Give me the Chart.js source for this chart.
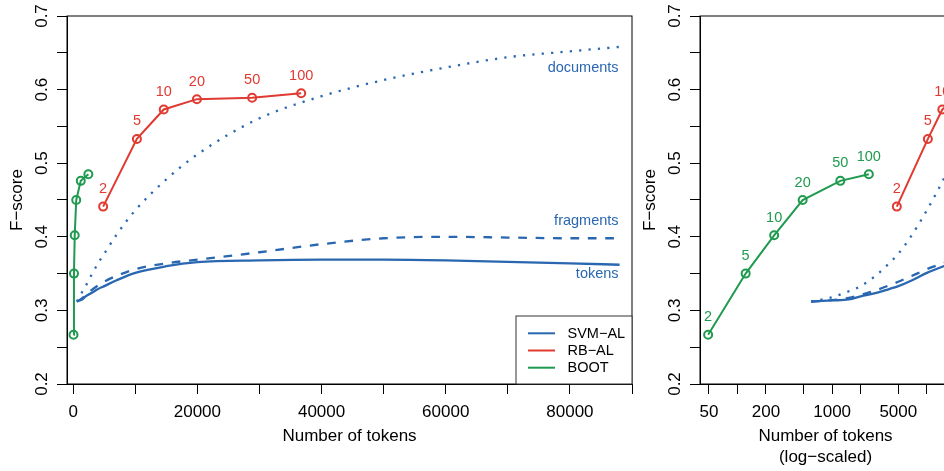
<!DOCTYPE html>
<html>
<head>
<meta charset="utf-8">
<script src="https://cdn.jsdelivr.net/npm/chart.js@4.4.0/dist/chart.umd.min.js"></script>
<style>
  html, body { margin: 0; padding: 0; background: #fff; overflow: hidden; }
  #wrap { position: relative; width: 944px; height: 471px; overflow: hidden; }
  canvas { position: absolute; top: 0; }
  #linChart { left: 0; }
  #logChart { left: 633px; }
</style>
</head>
<body>
<div id="wrap">
  <canvas id="linChart" width="640" height="471"></canvas>
  <canvas id="logChart" width="324" height="471"></canvas>
</div>
<script>
// seeds used for RB-AL and BOOT runs
const seeds = [2, 5, 10, 20, 50, 100];
const rbTokens = [4820, 10260, 14580, 19920, 28820, 36720];
const rbScore = [0.441, 0.533, 0.573, 0.587, 0.589, 0.595];
const bootTokens = [49, 122, 244, 488, 1220, 2440];
const bootScore = [0.267, 0.350, 0.402, 0.450, 0.476, 0.485];

// SVM-AL learning curves (tokens / fragments / documents)
const svmTokens = [600, 1000, 1500, 2000, 3000, 4000, 5000, 7000, 10000, 15000,
  20000, 30000, 40000, 50000, 60000, 70000, 80000, 88000];
const svmTok = [0.312, 0.3135, 0.315, 0.319, 0.324, 0.329, 0.333, 0.341, 0.351, 0.360,
  0.3655, 0.368, 0.369, 0.369, 0.368, 0.366, 0.364, 0.362];
const svmFrag = [0.312, 0.314, 0.317, 0.321, 0.328, 0.334, 0.339, 0.347, 0.356, 0.364,
  0.369, 0.379, 0.390, 0.398, 0.400, 0.399, 0.398, 0.398];
const svmDoc = [0.312, 0.318, 0.326, 0.333, 0.349, 0.364, 0.377, 0.403, 0.436, 0.478,
  0.512, 0.561, 0.591, 0.613, 0.630, 0.644, 0.652, 0.658];

const seriesNames = ["SVM\u2212AL", "RB\u2212AL", "BOOT"];
const curveNames = ["tokens", "fragments", "documents"];

const yTicks = [0.2, 0.25, 0.3, 0.35, 0.4, 0.45, 0.5, 0.55, 0.6, 0.65, 0.7];
const yLabels = [0.2, 0.3, 0.4, 0.5, 0.6, 0.7];
const linTicks = [0, 10000, 20000, 30000, 40000, 50000, 60000, 70000, 80000, 90000];
const linLabels = [0, 20000, 40000, 60000, 80000];
const logTicks = [50, 100, 200, 500, 1000, 2000, 5000, 10000];
const logLabels = [50, 200, 1000, 5000];

const BLUE = "#2a67b1";
const RED = "#e03a31";
const GREEN = "#1f9a4f";
const FONT = "'Liberation Sans', Arial, Helvetica, sans-serif";

function pts(xs, ys) {
  return xs.map((x, i) => ({ x: x, y: ys[i] }));
}

function buildDatasets() {
  const curve = {
    borderColor: BLUE, borderWidth: 2.3, pointRadius: 0,
    cubicInterpolationMode: "monotone", fill: false
  };
  const marks = {
    borderWidth: 2, pointRadius: 4, pointBorderWidth: 2,
    pointBackgroundColor: "rgba(0,0,0,0)", fill: false, tension: 0
  };
  return [
    Object.assign({ label: curveNames[0], data: pts(svmTokens, svmTok) }, curve),
    Object.assign({ label: curveNames[1], data: pts(svmTokens, svmFrag), borderDash: [8.7, 8.7] }, curve),
    Object.assign({ label: curveNames[2], data: pts(svmTokens, svmDoc), borderDash: [2.2, 7.2] }, curve),
    Object.assign({ label: seriesNames[1], data: pts(rbTokens, rbScore),
      borderColor: RED, pointBorderColor: RED }, marks),
    Object.assign({ label: seriesNames[2], data: pts(bootTokens, bootScore),
      borderColor: GREEN, pointBorderColor: GREEN }, marks)
  ];
}

// frame around the plot region + rotated y tick labels (R style)
const rFrame = {
  id: "rFrame",
  afterDraw(chart) {
    const ctx = chart.ctx, a = chart.chartArea, ys = chart.scales.y;
    ctx.save();
    ctx.strokeStyle = "#000";
    ctx.lineWidth = 1;
    ctx.strokeRect(a.left, a.top, a.right - a.left, a.bottom - a.top);
    ctx.fillStyle = "#000";
    ctx.font = "17px " + FONT;
    ctx.textAlign = "center";
    ctx.textBaseline = "middle";
    yLabels.forEach(v => {
      const y = ys.getPixelForValue(v);
      ctx.save();
      ctx.translate(a.left - 24.5, y);
      ctx.rotate(-Math.PI / 2);
      ctx.fillText(v.toFixed(1), 0, 0);
      ctx.restore();
    });
    ctx.restore();
  }
};

// seed numbers above the RB-AL / BOOT markers
const seedLabels = {
  id: "seedLabels",
  afterDatasetsDraw(chart, args, opts) {
    const ctx = chart.ctx, a = chart.chartArea;
    ctx.save();
    ctx.beginPath();
    ctx.rect(a.left, a.top, a.right - a.left, a.bottom - a.top);
    ctx.clip();
    ctx.font = "14.5px " + FONT;
    ctx.textAlign = "center";
    ctx.textBaseline = "middle";
    (opts.sets || []).forEach(i => {
      const meta = chart.getDatasetMeta(i);
      ctx.fillStyle = chart.data.datasets[i].borderColor;
      meta.data.forEach((el, j) => {
        ctx.fillText(String(seeds[j]), el.x, el.y - 17.5);
      });
    });
    ctx.restore();
  }
};

// names at the right end of the SVM-AL curves
const curveLabels = {
  id: "curveLabels",
  afterDatasetsDraw(chart, args, opts) {
    if (!opts.show) return;
    const ctx = chart.ctx;
    const shifts = [9.6, -17, 21.4];
    ctx.save();
    ctx.font = "14.5px " + FONT;
    ctx.fillStyle = BLUE;
    ctx.textAlign = "right";
    ctx.textBaseline = "middle";
    [0, 1, 2].forEach(i => {
      const meta = chart.getDatasetMeta(i);
      const last = meta.data[meta.data.length - 1];
      ctx.fillText(curveNames[i], last.x - 1, last.y + shifts[i]);
    });
    ctx.restore();
  }
};

// boxed legend in the lower right corner
const boxLegend = {
  id: "boxLegend",
  afterDraw(chart, args, opts) {
    if (!opts.show) return;
    const ctx = chart.ctx, a = chart.chartArea;
    const w = 116, h = 68;
    const left = a.right - w, top = a.bottom - h;
    const colors = [BLUE, RED, GREEN];
    ctx.save();
    ctx.fillStyle = "#fff";
    ctx.fillRect(left, top, w, h);
    ctx.strokeStyle = "#333";
    ctx.lineWidth = 1;
    ctx.strokeRect(left, top, w, h);
    ctx.font = "14.5px " + FONT;
    ctx.textAlign = "left";
    ctx.textBaseline = "middle";
    seriesNames.forEach((name, i) => {
      const y = top + 17.3 + i * 17.2;
      ctx.strokeStyle = colors[i];
      ctx.lineWidth = 2;
      ctx.beginPath();
      ctx.moveTo(left + 12, y);
      ctx.lineTo(left + 39, y);
      ctx.stroke();
      ctx.fillStyle = "#000";
      ctx.fillText(name, left + 51.5, y + 0.5);
    });
    ctx.restore();
  }
};

function axisGrid() {
  return {
    display: true, drawOnChartArea: false, drawTicks: true,
    tickLength: 10, color: "#000", lineWidth: 1
  };
}

function makeChart(id, xType, xMin, xMax, xTicks, xLabels, xTitle, titlePad, opts) {
  return new Chart(document.getElementById(id), {
    type: "line",
    data: { datasets: buildDatasets() },
    options: {
      responsive: false,
      animation: false,
      layout: { padding: { top: 16, right: 5, left: 0, bottom: 0 } },
      plugins: {
        legend: { display: false },
        tooltip: { enabled: false },
        seedLabels: { sets: opts.sets },
        curveLabels: { show: opts.curves },
        boxLegend: { show: opts.legend }
      },
      scales: {
        x: {
          type: xType, min: xMin, max: xMax,
          afterBuildTicks: s => { s.ticks = xTicks.map(v => ({ value: v })); },
          afterFit: s => { s.height = 87; },
          grid: axisGrid(),
          border: { display: true, color: "#000", width: 1 },
          ticks: {
            autoSkip: false, maxRotation: 0, padding: 8, color: "#000",
            font: { family: FONT, size: 17 },
            callback: v => (xLabels.indexOf(v) >= 0 ? String(v) : "")
          },
          title: {
            display: true, text: xTitle, color: "#000",
            font: { family: FONT, size: 17, lineHeight: 1.27 },
            padding: { top: 0, bottom: titlePad }
          }
        },
        y: {
          type: "linear", min: 0.2, max: 0.7,
          afterBuildTicks: s => { s.ticks = yTicks.map(v => ({ value: v })); },
          afterFit: s => { s.width = 67; },
          grid: axisGrid(),
          border: { display: true, color: "#000", width: 1 },
          ticks: { callback: () => "" },
          title: {
            display: true, text: "F\u2212score", color: "#000",
            font: { family: FONT, size: 17, lineHeight: 1.27 },
            padding: { top: 6.2, bottom: 0 }
          }
        }
      }
    },
    plugins: [rFrame, seedLabels, curveLabels, boxLegend]
  });
}

makeChart("linChart", "linear", -1000, 90000, linTicks, linLabels,
  "Number of tokens", 24.2, { sets: [3], curves: true, legend: true });
makeChart("logChart", "logarithmic", 40.2, 18000, logTicks, logLabels,
  ["Number of tokens", "(log\u2212scaled)"], 2.6, { sets: [3, 4], curves: false, legend: false });
</script>
</body>
</html>
